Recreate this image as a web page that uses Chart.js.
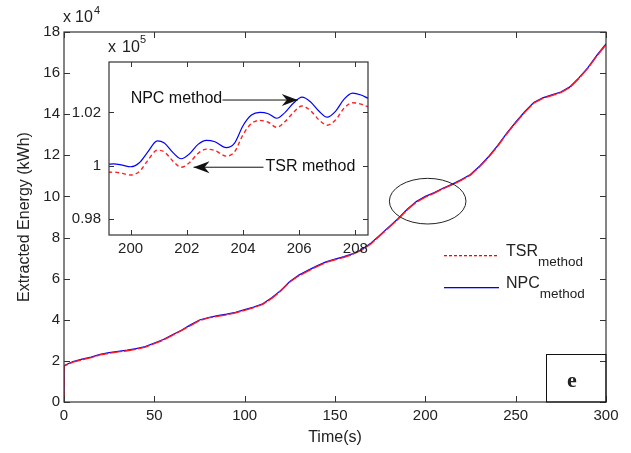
<!DOCTYPE html>
<html>
<head>
<meta charset="utf-8">
<script src="https://cdn.jsdelivr.net/npm/chart.js@4/dist/chart.umd.min.js"></script>
<style>
  html,body{margin:0;padding:0;background:#fff;}
  #wrap{position:relative;width:631px;height:453px;background:#fff;}
  #main{position:absolute;left:0;top:0;}
  #inset{position:absolute;left:60px;top:35px;}
</style>
</head>
<body>
<div id="wrap">
  <canvas id="main" width="631" height="453"></canvas>
  <canvas id="inset" width="320" height="225"></canvas>
</div>
<script>
// ---------- main plot data (energy in x 10^4 kWh) ----------
const timeMain = [0, 0, 5, 10, 15, 20, 25, 30, 35, 40, 45, 50, 55, 60, 65, 70, 75, 80, 85, 90, 95,
  100, 105, 110, 115, 120, 125, 130, 135, 140, 145, 150, 155, 160, 165, 170, 175, 180, 185, 190, 195,
  200, 205, 210, 215, 220, 225, 230, 235, 240, 245, 250, 255, 260, 265, 270, 275, 280, 285, 290, 295, 300];
const tsrMain = [0, 1.75, 1.94, 2.06, 2.16, 2.29, 2.37, 2.44, 2.49, 2.57, 2.67, 2.84, 3.01, 3.24, 3.47, 3.72, 3.96, 4.09, 4.17, 4.24, 4.34,
  4.46, 4.59, 4.75, 5.04, 5.40, 5.84, 6.14, 6.37, 6.59, 6.79, 6.92, 7.04, 7.19, 7.40, 7.70, 8.10, 8.50, 8.90, 9.35, 9.72,
  9.97, 10.16, 10.38, 10.57, 10.79, 11.04, 11.44, 11.90, 12.44, 13.04, 13.58, 14.09, 14.54, 14.77, 14.91, 15.05, 15.30, 15.74, 16.24, 16.84, 17.38];
const npcMain = [0, 1.77, 1.97, 2.09, 2.18, 2.32, 2.40, 2.46, 2.52, 2.60, 2.69, 2.87, 3.04, 3.27, 3.49, 3.75, 3.99, 4.11, 4.20, 4.27, 4.36,
  4.49, 4.62, 4.78, 5.07, 5.43, 5.86, 6.17, 6.40, 6.62, 6.82, 6.95, 7.07, 7.22, 7.43, 7.73, 8.13, 8.53, 8.93, 9.38, 9.75,
  10.00, 10.19, 10.41, 10.60, 10.82, 11.07, 11.47, 11.93, 12.47, 13.07, 13.61, 14.12, 14.57, 14.80, 14.94, 15.08, 15.33, 15.77, 16.27, 16.87, 17.42];
const mainXTicks = [0, 50, 100, 150, 200, 250, 300];
const mainYTicks = [0, 2, 4, 6, 8, 10, 12, 14, 16, 18];

// ---------- inset data (energy in x 10^5 kWh) ----------
const timeInset = [199.2, 199.4, 199.7, 200.0, 200.3, 200.6, 200.95, 201.2, 201.5, 201.8, 202.1, 202.4, 202.7, 203.0,
  203.4, 203.7, 204.0, 204.3, 204.6, 204.9, 205.2, 205.5, 205.8, 206.1, 206.4, 206.7, 207.0, 207.3, 207.6, 207.9, 208.2, 208.45];
const npcInset = [1.0005, 1.0007, 1.0002, 0.9996, 1.0010, 1.0050, 1.0093, 1.0085, 1.0050, 1.0026, 1.0045, 1.0080, 1.0095, 1.0090,
  1.0068, 1.0085, 1.0150, 1.0190, 1.0200, 1.0195, 1.0178, 1.0200, 1.0235, 1.0257, 1.0240, 1.0205, 1.0182, 1.0205, 1.0250, 1.0272, 1.0265, 1.0253];
const tsrInset = [0.9975, 0.9976, 0.9971, 0.9965, 0.9977, 1.0018, 1.0058, 1.0052, 1.0018, 0.9994, 1.0012, 1.0046, 1.0062, 1.0057,
  1.0036, 1.0052, 1.0116, 1.0158, 1.0170, 1.0163, 1.0144, 1.0166, 1.0200, 1.0224, 1.0207, 1.0172, 1.0152, 1.0172, 1.0216, 1.0236, 1.0231, 1.0221];
const insetXTicks = [200, 202, 204, 206, 208];
const insetYTicks = [0.98, 1, 1.02];

const FONT = "'Liberation Sans', Arial, sans-serif";
const TXT = '#222';
const AXC = '#333';

function pts(xs, ys){ return xs.map((x,i)=>({x:x, y:ys[i]})); }

function drawBoxTicks(chart, len){
  const {ctx, chartArea:a, scales:{x, y}} = chart;
  ctx.save();
  ctx.setLineDash([]);
  ctx.strokeStyle = AXC; ctx.lineWidth = 1.2;
  ctx.strokeRect(a.left, a.top, a.right - a.left, a.bottom - a.top);
  ctx.lineWidth = 1;
  ctx.beginPath();
  x.ticks.forEach(t=>{
    const p = Math.round(x.getPixelForValue(t.value)) + 0.5;
    ctx.moveTo(p, a.bottom); ctx.lineTo(p, a.bottom - len);
    ctx.moveTo(p, a.top); ctx.lineTo(p, a.top + len);
  });
  y.ticks.forEach(t=>{
    const p = Math.round(y.getPixelForValue(t.value)) + 0.5;
    ctx.moveTo(a.left, p); ctx.lineTo(a.left + len, p);
    ctx.moveTo(a.right, p); ctx.lineTo(a.right - len, p);
  });
  ctx.stroke();
  ctx.restore();
}

function arrow(ctx, x1, y1, x2, y2){
  ctx.beginPath(); ctx.moveTo(x1, y1); ctx.lineTo(x2, y2); ctx.stroke();
  const ang = Math.atan2(y2 - y1, x2 - x1);
  const L = 16, W = 6;
  ctx.save(); ctx.translate(x2, y2); ctx.rotate(ang);
  ctx.beginPath(); ctx.moveTo(0, 0); ctx.lineTo(-L, -W); ctx.lineTo(-L + 5, 0); ctx.lineTo(-L, W); ctx.closePath();
  ctx.fill(); ctx.restore();
}

function subLabel(ctx, base, sub, x, yBase){
  ctx.font = '16px ' + FONT;
  ctx.fillText(base, x, yBase);
  const w = ctx.measureText(base).width;
  ctx.font = '13.5px ' + FONT;
  ctx.fillText(sub, x + w, yBase + 10);
}

// ---------- main chart ----------
const mainDeco = {
  id: 'mainDeco',
  afterDraw(chart){
    const {ctx, scales:{x, y}} = chart;
    drawBoxTicks(chart, 6);
    ctx.save();
    ctx.setLineDash([]);
    // legend samples
    ctx.fillStyle = 'rgb(255,0,0)';
    for (let px = 444; px < 497; px += 5) ctx.fillRect(px, 255, 3, 1.3);
    ctx.fillStyle = 'rgb(0,0,255)';
    ctx.fillRect(444, 287, 55, 1.3);
    // exponent label
    ctx.fillStyle = TXT; ctx.textBaseline = 'middle'; ctx.textAlign = 'left';
    ctx.font = '16px ' + FONT;
    ctx.fillText('x', 63, 18);
    ctx.fillText('10', 75, 18);
    ctx.font = '11px ' + FONT;
    ctx.fillText('4', 94, 11);
    // ellipse around zoomed region
    const cx = x.getPixelForValue(201.3), cy = y.getPixelForValue(9.77);
    const rx = x.getPixelForValue(201.3 + 21.2) - cx, ry = cy - y.getPixelForValue(9.77 + 1.11);
    ctx.strokeStyle = '#222'; ctx.lineWidth = 1;
    ctx.beginPath(); ctx.ellipse(cx, cy, rx, ry, 0, 0, Math.PI * 2); ctx.stroke();
    // legend text
    ctx.fillStyle = TXT;
    subLabel(ctx, 'TSR', 'method', 506, 252);
    subLabel(ctx, 'NPC', 'method', 506, 284);
    // panel label box
    ctx.strokeStyle = '#111'; ctx.lineWidth = 1;
    ctx.strokeRect(546.5, 354.5, 59.5, 47.5);
    ctx.font = 'bold 22px "Liberation Serif", "Times New Roman", serif';
    ctx.textAlign = 'center';
    ctx.fillText('e', 572, 381);
    ctx.restore();
  }
};

new Chart(document.getElementById('main'), {
  type: 'line',
  data: {
    datasets: [
      { label: 'TSR method', data: pts(timeMain, tsrMain), borderColor: '#ff1a1a', borderWidth: 1.4, borderDash: [12, 2], pointRadius: 0, tension: 0, order: 0 },
      { label: 'NPC method', data: pts(timeMain, npcMain), borderColor: '#0000ff', borderWidth: 1.3, pointRadius: 0, tension: 0, order: 1 }
    ]
  },
  options: {
    responsive: false, animation: false, devicePixelRatio: 1,
    layout: { padding: { left: 0, right: 25, top: 32, bottom: 0 } },
    plugins: { legend: { display: false }, tooltip: { enabled: false } },
    scales: {
      x: {
        type: 'linear', min: 0, max: 300,
        afterBuildTicks: s => { s.ticks = mainXTicks.map(v => ({ value: v })); },
        afterFit: s => { s.height = 51; },
        ticks: { font: { size: 15, family: FONT }, color: TXT, padding: 5, maxRotation: 0, autoSkip: false, callback: v => String(v) },
        grid: { display: false, drawTicks: false },
        border: { display: false },
        title: { display: true, text: 'Time(s)', color: TXT, font: { size: 16, family: FONT }, padding: { top: 0, bottom: 5.4 } }
      },
      y: {
        type: 'linear', min: 0, max: 18,
        afterBuildTicks: s => { s.ticks = mainYTicks.map(v => ({ value: v })); },
        afterFit: s => { s.width = 64; },
        ticks: { font: { size: 15, family: FONT }, color: TXT, padding: 4, autoSkip: false, callback: v => String(v) },
        grid: { display: false, drawTicks: false },
        border: { display: false },
        title: { display: true, text: 'Extracted Energy (kWh)', color: TXT, font: { size: 16, family: FONT }, padding: { top: 15, bottom: 0 } }
      }
    }
  },
  plugins: [mainDeco]
});

// ---------- inset chart ----------
const insetDeco = {
  id: 'insetDeco',
  beforeDatasetsDraw(chart){
    const {ctx, chartArea:a} = chart;
    ctx.save(); ctx.fillStyle = '#fff';
    ctx.fillRect(a.left, a.top, a.right - a.left, a.bottom - a.top);
    ctx.restore();
  },
  afterDraw(chart){
    const {ctx, scales:{x, y}} = chart;
    drawBoxTicks(chart, 5);
    ctx.save();
    ctx.setLineDash([]);
    ctx.fillStyle = TXT; ctx.textBaseline = 'middle'; ctx.textAlign = 'left';
    ctx.font = '16px ' + FONT;
    ctx.fillText('x', 48, 13);
    ctx.fillText('10', 62, 13);
    ctx.font = '11px ' + FONT;
    ctx.fillText('5', 80, 5);
    // annotations
    ctx.font = '16px ' + FONT;
    ctx.strokeStyle = '#111'; ctx.lineWidth = 1;
    ctx.fillStyle = '#111';
    const ny = y.getPixelForValue(1.0252);
    ctx.fillText('NPC method', x.getPixelForValue(200.0), ny);
    arrow(ctx, x.getPixelForValue(203.27), ny + 1.5, x.getPixelForValue(205.95), ny + 1.5);
    const ty = y.getPixelForValue(0.9998);
    ctx.fillText('TSR method', x.getPixelForValue(204.8), ty);
    arrow(ctx, x.getPixelForValue(204.73), ty + 1, x.getPixelForValue(202.24), ty + 1);
    ctx.restore();
  }
};

new Chart(document.getElementById('inset'), {
  type: 'line',
  data: {
    datasets: [
      { label: 'NPC method', data: pts(timeInset, npcInset), borderColor: '#0000ff', borderWidth: 1.2, pointRadius: 0, cubicInterpolationMode: 'monotone' },
      { label: 'TSR method', data: pts(timeInset, tsrInset), borderColor: '#ff2020', borderWidth: 1.4, borderDash: [4, 3], pointRadius: 0, cubicInterpolationMode: 'monotone' }
    ]
  },
  options: {
    responsive: false, animation: false, devicePixelRatio: 1,
    layout: { padding: { left: 0, right: 12, top: 27, bottom: 0 } },
    plugins: { legend: { display: false }, tooltip: { enabled: false } },
    scales: {
      x: {
        type: 'linear', min: 199.23, max: 208.45,
        afterBuildTicks: s => { s.ticks = insetXTicks.map(v => ({ value: v })); },
        afterFit: s => { s.height = 25; },
        ticks: { font: { size: 15, family: FONT }, color: TXT, padding: 5, maxRotation: 0, autoSkip: false, callback: v => String(v) },
        grid: { display: false, drawTicks: false },
        border: { display: false }
      },
      y: {
        type: 'linear', min: 0.974, max: 1.0389,
        afterBuildTicks: s => { s.ticks = insetYTicks.map(v => ({ value: v })); },
        afterFit: s => { s.width = 49; },
        ticks: { font: { size: 15, family: FONT }, color: TXT, padding: 8, autoSkip: false, callback: v => String(v) },
        grid: { display: false, drawTicks: false },
        border: { display: false }
      }
    }
  },
  plugins: [insetDeco]
});
</script>
</body>
</html>
